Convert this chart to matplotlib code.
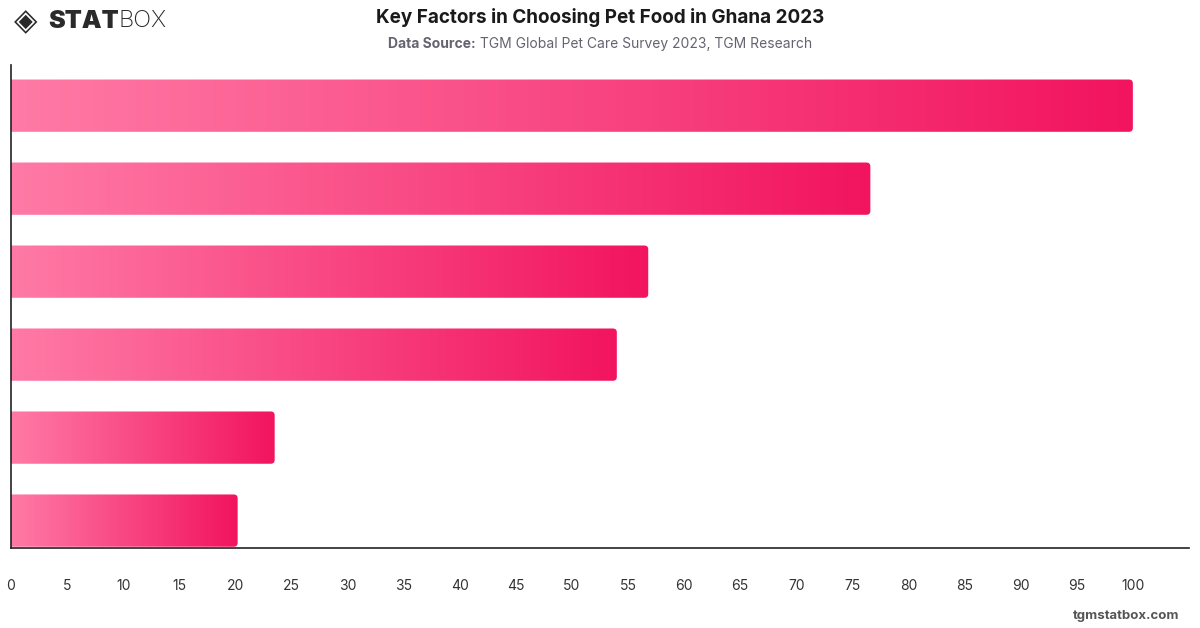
import numpy as np
import matplotlib
matplotlib.use("Agg")
import matplotlib.pyplot as plt
from matplotlib.colors import LinearSegmentedColormap
from matplotlib.patches import FancyBboxPatch

plt.rcParams['font.family'] = ['Inter', 'DejaVu Sans']

# bar values, top to bottom (no category labels shown on the chart)
values = [100.0, 76.6, 56.8, 54.0, 23.5, 20.2]
xticks = list(range(0, 101, 5))

title = "Key Factors in Choosing Pet Food in Ghana 2023"
source_bold = "Data Source:"
source_text = " TGM Global Pet Care Survey 2023, TGM Research"

cmap = LinearSegmentedColormap.from_list("pink", ["#ff7aa6", "#f2145f"])
grad = np.linspace(0, 1, 256).reshape(1, -1)

fig = plt.figure(figsize=(12, 6.28), dpi=100)
ax = fig.add_axes([0.0092, 0.1274, 0.9816, 0.7691])

pos = np.arange(len(values))
bars = ax.barh(pos, values, height=0.63, color="none", edgecolor="none")

# gradient fill with rounded right end
for b in bars:
    x0, y0 = b.get_x(), b.get_y()
    w, h = b.get_width(), b.get_height()
    clip = FancyBboxPatch((x0 - 1, y0), w + 1, h,
                          boxstyle="round,pad=0,rounding_size=0.35",
                          mutation_aspect=0.135,
                          facecolor="none", edgecolor="none",
                          transform=ax.transData)
    ax.add_patch(clip)
    im = ax.imshow(grad, cmap=cmap, aspect="auto", extent=(x0, x0 + w, y0 + h, y0),
                   interpolation="bilinear", zorder=2)
    im.set_clip_path(clip)

ax.set_xlim(0, 105)
ax.set_ylim(5.33, -0.49)

for s in ["top", "right"]:
    ax.spines[s].set_visible(False)
for s in ["left", "bottom"]:
    ax.spines[s].set_color("#222222")
    ax.spines[s].set_linewidth(1.2)

ax.set_yticks([])
ax.set_xticks(xticks)
ax.set_xticklabels([str(t) for t in xticks])
ax.tick_params(axis="x", length=0, pad=22, labelsize=10, labelcolor="#333333")

renderer = fig.canvas.get_renderer()

# header
fig.text(0.5, 0.972, title, ha="center", va="center", fontsize=13.6,
         fontweight="bold", color="#1a1a1a")

t1 = fig.text(0, 0.930, source_bold, ha="left", va="center", fontsize=10,
              fontweight="bold", color="#666370")
t2 = fig.text(0, 0.930, source_text, ha="left", va="center", fontsize=10,
              color="#666370")
w1 = t1.get_window_extent(renderer).width
w2 = t2.get_window_extent(renderer).width
start = (fig.bbox.width - w1 - w2) / 2
t1.set_x(start / fig.bbox.width)
t2.set_x((start + w1) / fig.bbox.width)

# logo
fig.text(0.012, 0.966, "\u25c8", ha="left", va="center", fontsize=22,
         color="#2a2a2a", family="DejaVu Sans", fontweight="bold")
l1 = fig.text(0.040, 0.966, "STAT", ha="left", va="center", fontsize=18,
              fontweight="black", color="#2a2a2a")
wl = l1.get_window_extent(renderer).width
fig.text(0.040 + wl / fig.bbox.width, 0.966, "BOX", ha="left", va="center",
         fontsize=17, fontweight="light", color="#2a2a2a")

# footer
fig.text(0.983, 0.019, "tgmstatbox.com", ha="right", va="center", fontsize=9.5,
         fontweight="bold", color="#555555")

fig.savefig("out.png", dpi=100)
